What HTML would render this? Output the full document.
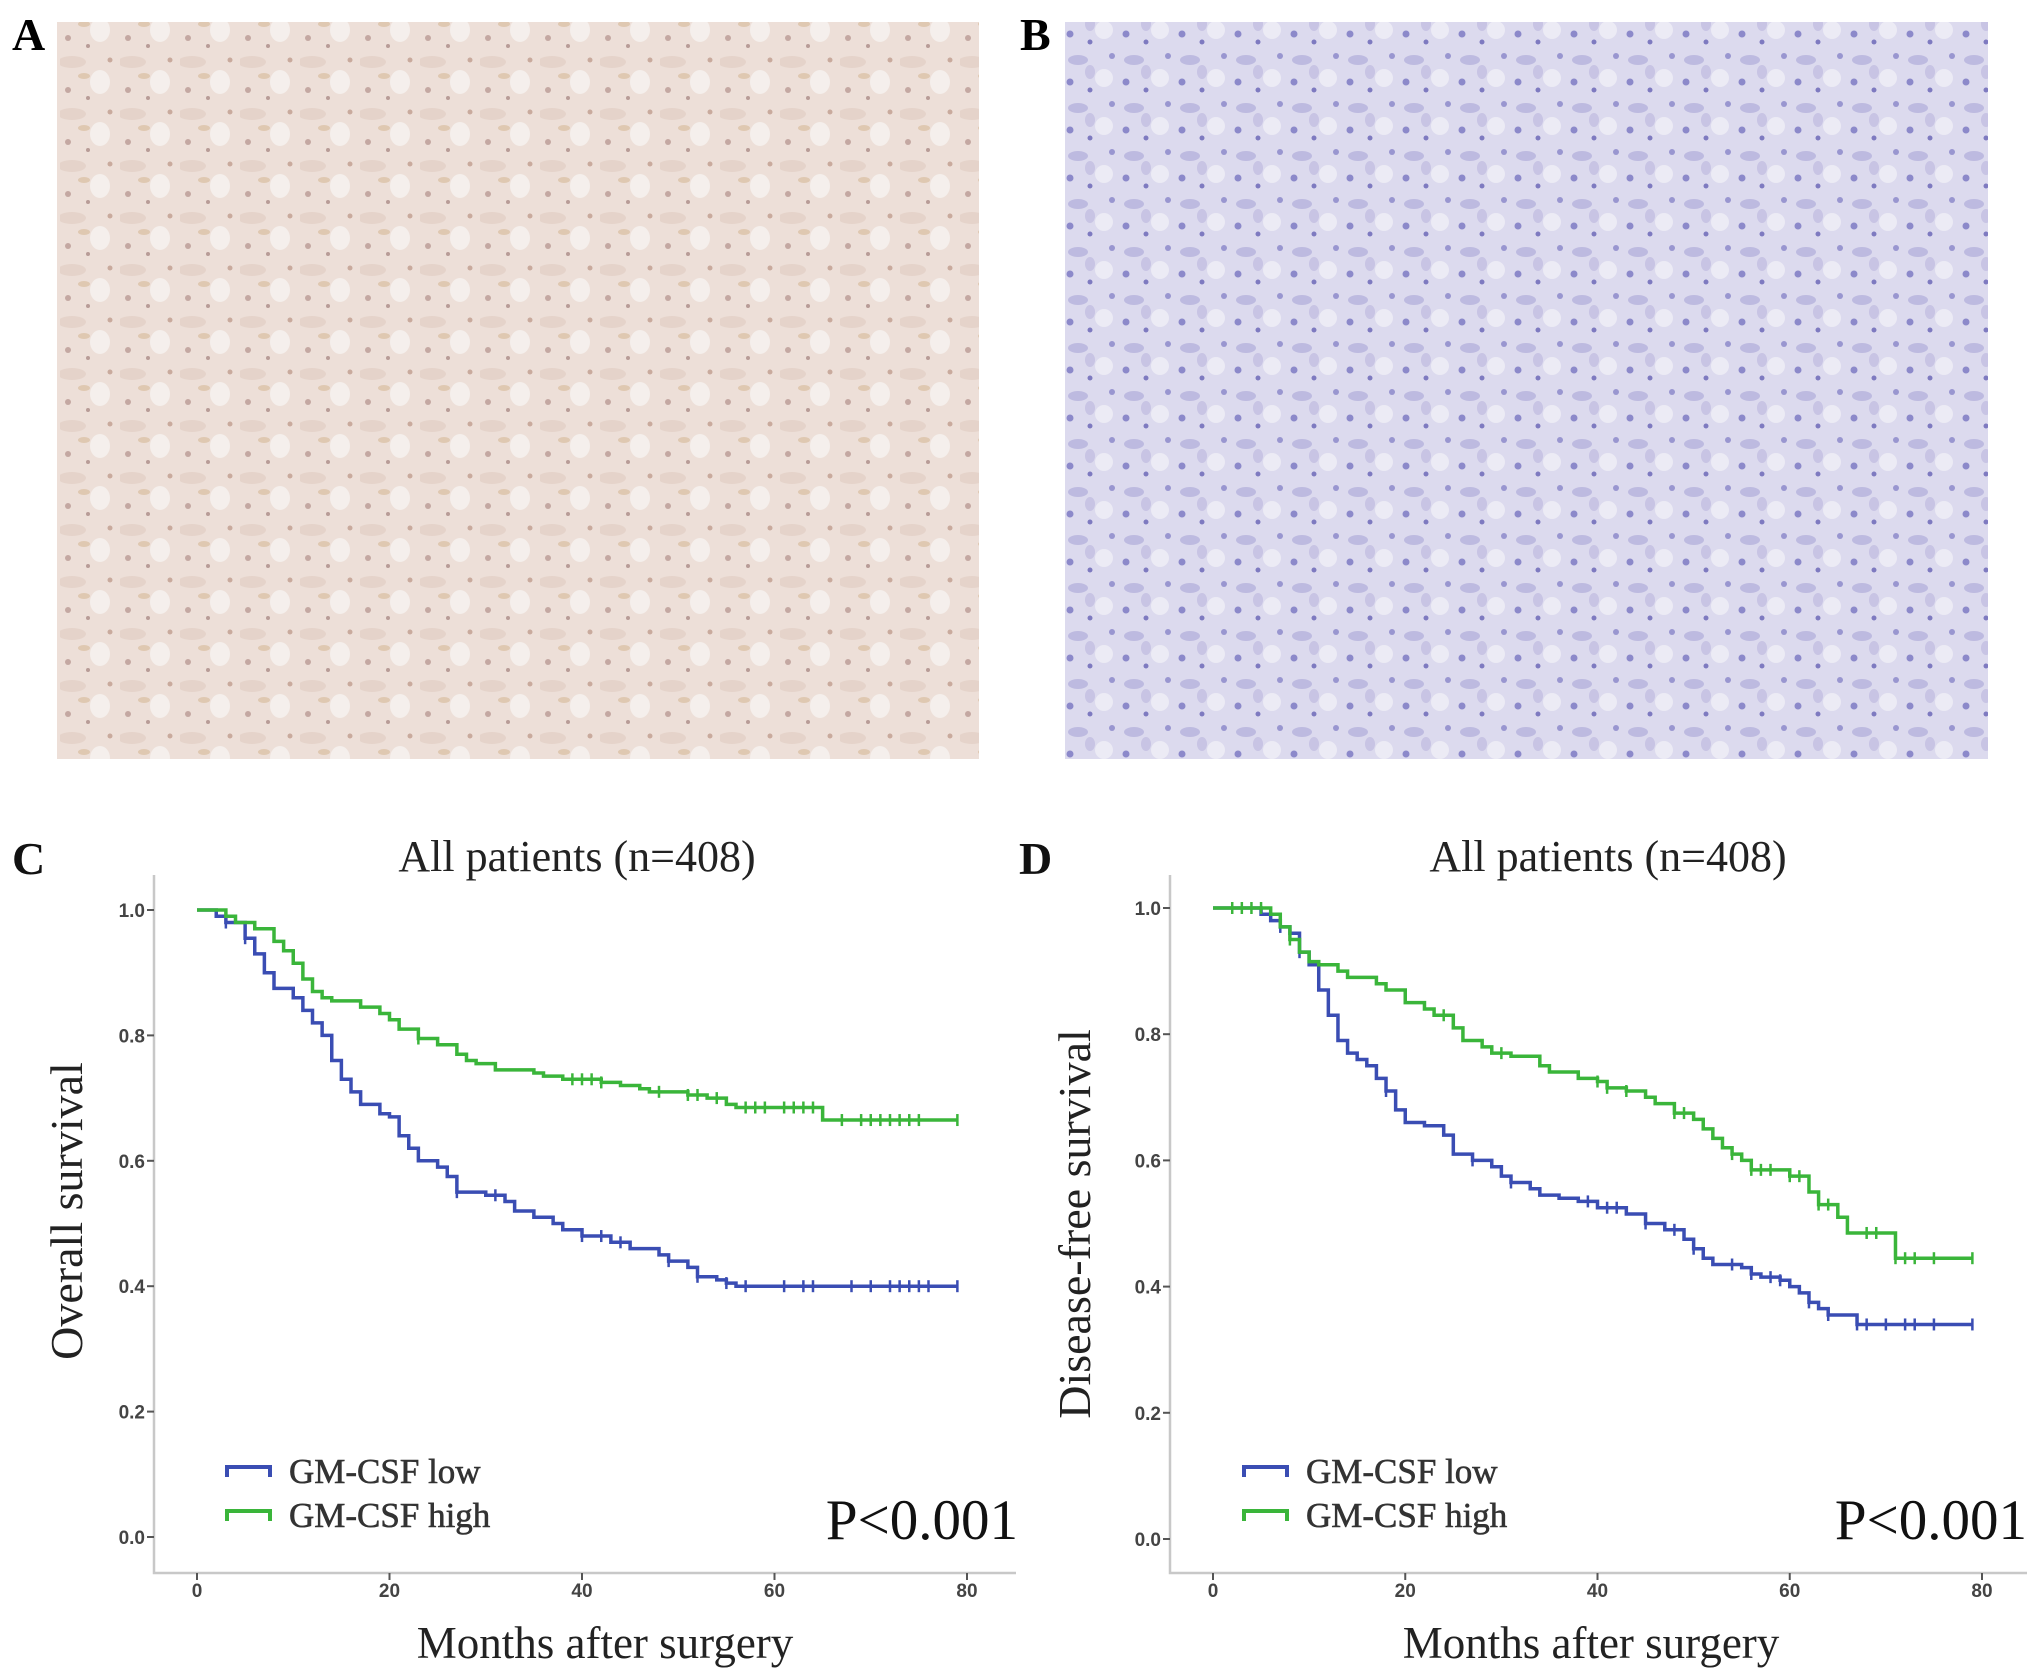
<!DOCTYPE html>
<html><head><meta charset="utf-8"><style>
body{margin:0;background:#fff;width:2031px;height:1677px;overflow:hidden}
svg{display:block}
</style></head><body>
<svg id="fig" width="2031" height="1677" xmlns="http://www.w3.org/2000/svg" font-family="Liberation Serif, serif">
<defs>
<pattern id="pa" width="60" height="52" patternUnits="userSpaceOnUse">
<rect width="60" height="52" fill="#eddfd8"/>
<ellipse cx="12" cy="10" rx="14" ry="6" fill="#e5d3ca"/>
<ellipse cx="40" cy="30" rx="10" ry="12" fill="#f5efec"/>
<circle cx="8" cy="38" r="3" fill="#c4a8a2"/>
<circle cx="50" cy="8" r="2.5" fill="#c9aa9d"/>
<circle cx="28" cy="46" r="2" fill="#b89c97"/>
<ellipse cx="24" cy="24" rx="6" ry="3" fill="#dfc8b1"/>
</pattern>
<pattern id="pb" width="56" height="48" patternUnits="userSpaceOnUse">
<rect width="56" height="48" fill="#dcdaee"/>
<ellipse cx="14" cy="12" rx="10" ry="5" fill="#bdbae0"/>
<ellipse cx="40" cy="30" rx="9" ry="9" fill="#ecebf5"/>
<circle cx="6" cy="34" r="3.5" fill="#8c89ca"/>
<circle cx="48" cy="8" r="3" fill="#9996d0"/>
<circle cx="26" cy="42" r="2.5" fill="#7e7ac0"/>
<ellipse cx="26" cy="24" rx="5" ry="7" fill="#c8c4e4"/>
</pattern>
</defs>
<rect x="57" y="22" width="922" height="737" fill="url(#pa)"/>
<rect x="1065" y="22" width="923" height="737" fill="url(#pb)"/>
<text x="12" y="50" font-size="46" font-weight="bold">A</text>
<text x="1020" y="50" font-size="46" font-weight="bold">B</text>
<g id="chartC"></g>
<g id="chartD"></g>
</svg>
<script>
const xTicks=[0,20,40,60,80];
const yTicks=[0.0,0.2,0.4,0.6,0.8,1.0];
const seriesNames=["GM-CSF low","GM-CSF high"];
const osLowT=[0,2,3,5,6,7,8,10,11,12,13,14,15,16,17,19,20,21,22,23,25,26,27,30,32,33,35,37,38,40,43,45,48,49,51,52,54,55,56,79];
const osLowS=[1,0.99,0.98,0.955,0.93,0.90,0.875,0.86,0.84,0.82,0.80,0.76,0.73,0.71,0.69,0.675,0.67,0.64,0.62,0.60,0.59,0.575,0.55,0.545,0.535,0.52,0.51,0.50,0.49,0.48,0.47,0.46,0.45,0.44,0.43,0.415,0.41,0.405,0.40,0.40];
const osHighT=[0,3,4,6,8,9,10,11,12,13,14,17,19,20,21,23,25,27,28,29,31,35,36,38,42,44,46,47,51,53,55,56,65,79];
const osHighS=[1,0.99,0.98,0.97,0.95,0.935,0.915,0.89,0.87,0.86,0.855,0.845,0.835,0.825,0.81,0.795,0.785,0.77,0.76,0.755,0.745,0.74,0.735,0.73,0.725,0.72,0.715,0.71,0.705,0.70,0.69,0.685,0.665,0.665];
const osLowCens=[3,5,27,31,40,42,44,49,52,55,57,61,63,64,68,70,72,73,74,75,76,79];
const osHighCens=[23,39,40,41,42,48,51,52,54,57,58,59,61,62,63,64,67,69,70,71,72,73,74,75,79];
const dfsLowT=[0,5,6,7,8,9,10,11,12,13,14,15,16,17,18,19,20,22,24,25,27,29,30,31,33,34,36,38,40,43,45,47,49,50,51,52,55,56,57,59,60,61,62,63,64,67,79];
const dfsLowS=[1,0.99,0.98,0.97,0.96,0.93,0.91,0.87,0.83,0.79,0.77,0.76,0.75,0.73,0.71,0.68,0.66,0.655,0.64,0.61,0.60,0.59,0.575,0.565,0.555,0.545,0.54,0.535,0.525,0.515,0.50,0.49,0.475,0.46,0.445,0.435,0.43,0.42,0.415,0.41,0.40,0.39,0.375,0.365,0.355,0.34,0.34];
const dfsHighT=[0,6,7,8,9,10,11,13,14,17,18,20,22,23,25,26,28,29,31,34,35,38,40,41,43,45,46,48,50,51,52,53,54,55,56,60,62,63,65,66,71,79];
const dfsHighS=[1,0.99,0.97,0.95,0.93,0.915,0.91,0.90,0.89,0.88,0.87,0.85,0.84,0.83,0.81,0.79,0.78,0.77,0.765,0.75,0.74,0.73,0.725,0.715,0.71,0.70,0.69,0.675,0.665,0.65,0.635,0.62,0.61,0.60,0.585,0.575,0.55,0.53,0.51,0.485,0.445,0.445];
const dfsLowCens=[7,9,18,27,31,39,41,42,45,48,50,54,56,58,59,62,64,67,68,70,72,73,75,79];
const dfsHighCens=[2,3,4,5,8,24,30,40,41,43,48,49,54,56,57,58,60,61,63,64,68,69,71,72,73,75,79];

const NS="http://www.w3.org/2000/svg";
function mk(parent,tag,attrs){const e=document.createElementNS(NS,tag);for(const k in attrs)e.setAttribute(k,attrs[k]);parent.appendChild(e);return e;}
function stepAt(T,S,t){let s=S[0];for(let i=0;i<T.length;i++){if(T[i]<=t)s=S[i];}return s;}

function drawChart(g,cfg){
  const sx=v=>cfg.x0+(cfg.x80-cfg.x0)*v/80;
  const sy=v=>cfg.y0+(cfg.y1-cfg.y0)*v;
  const axis=mk(g,'path',{d:`M${cfg.axL} ${cfg.axT} V${cfg.axB} H${cfg.axR}`,fill:'none',stroke:'#c8c8c8','stroke-width':2.5});
  
  
  yTicks.forEach(v=>{
    const t=mk(g,'line',{x1:cfg.axL-7,x2:cfg.axL,y1:sy(v),y2:sy(v),stroke:'#555','stroke-width':2});
    
    
    const l=mk(g,'text',{x:cfg.axL-9,y:sy(v)+7,'font-size':19,'font-weight':'bold','text-anchor':'end','font-family':'Liberation Sans, sans-serif',fill:'#444'});
    l.textContent=v.toFixed(1);
    
    
  });
  xTicks.forEach(v=>{
    const t=mk(g,'line',{x1:sx(v),x2:sx(v),y1:cfg.axB,y2:cfg.axB+7,stroke:'#555','stroke-width':2});
    
    
    const l=mk(g,'text',{x:sx(v),y:cfg.axB+24,'font-size':19,'font-weight':'bold','text-anchor':'middle','font-family':'Liberation Sans, sans-serif',fill:'#444'});
    l.textContent=String(v);
    
    
  });
  cfg.series.forEach((s,i)=>{
    let d=`M${sx(s.T[0])} ${sy(s.S[0])}`;
    for(let k=1;k<s.T.length;k++){d+=` H${sx(s.T[k])} V${sy(s.S[k])}`;}
    const p=mk(g,'path',{d,fill:'none',stroke:s.c,'stroke-width':3.5});
    
    
    s.C.forEach(t=>{
      const y=sy(stepAt(s.T,s.S,t));
      const m=mk(g,'line',{x1:sx(t),x2:sx(t),y1:y-6,y2:y+6,stroke:s.c,'stroke-width':2.5});
      
      
    });
    const ly=cfg.legY+i*44;
    const lg=mk(g,'path',{d:`M${cfg.legX} ${ly+5} V${ly-5} H${cfg.legX+43} V${ly+5}`,fill:'none',stroke:s.c,'stroke-width':4});
    
    
    const lt=mk(g,'text',{x:cfg.legX+62,y:ly+11,'font-size':35,fill:'#333',stroke:'#333','stroke-width':0.6});
    lt.textContent=seriesNames[i];
    
    
  });
  const tt=mk(g,'text',{x:cfg.titleX,y:871,'font-size':44,'text-anchor':'middle',fill:'#222'});
  tt.textContent='All patients (n=408)';
  
  
  const pl=mk(g,'text',{x:cfg.letterX,y:874,'font-size':46,'font-weight':'bold',fill:'#111'});
  pl.textContent=cfg.letter;
  
  
  const yl=mk(g,'text',{x:0,y:0,'font-size':46,'text-anchor':'middle',fill:'#222',transform:`translate(${cfg.ylX},${cfg.ylY}) rotate(-90)`});
  yl.textContent=cfg.ylabel;
  
  
  const xl=mk(g,'text',{x:cfg.xlX,y:1658,'font-size':45,'text-anchor':'middle',fill:'#222'});
  xl.textContent='Months after surgery';
  
  
  const pv=mk(g,'text',{x:cfg.pX,y:1539,'font-size':57,'text-anchor':'end',fill:'#111'});
  pv.textContent='P<0.001';
  
  
}
drawChart(document.getElementById('chartC'),{x0:197,x80:967,y0:1537,y1:910,axL:154,axT:875,axB:1573,axR:1016,
  legX:227,legY:1472,titleX:577,letterX:12,letter:'C',ylX:82,ylY:1211,ylabel:'Overall survival',xlX:605,pX:1018,
  series:[{T:osLowT,S:osLowS,C:osLowCens,c:'#3a4db3',name:'survival-curve-low'},{T:osHighT,S:osHighS,C:osHighCens,c:'#3ab53a',name:'survival-curve-high'}]});
drawChart(document.getElementById('chartD'),{x0:1213,x80:1982,y0:1539,y1:908,axL:1170,axT:875,axB:1573,axR:2027,
  legX:1244,legY:1472,titleX:1608,letterX:1019,letter:'D',ylX:1090,ylY:1224,ylabel:'Disease-free survival',xlX:1591,pX:2027,
  series:[{T:dfsLowT,S:dfsLowS,C:dfsLowCens,c:'#3a4db3',name:'dfs-curve-low'},{T:dfsHighT,S:dfsHighS,C:dfsHighCens,c:'#3ab53a',name:'dfs-curve-high'}]});
</script>
</body></html>
